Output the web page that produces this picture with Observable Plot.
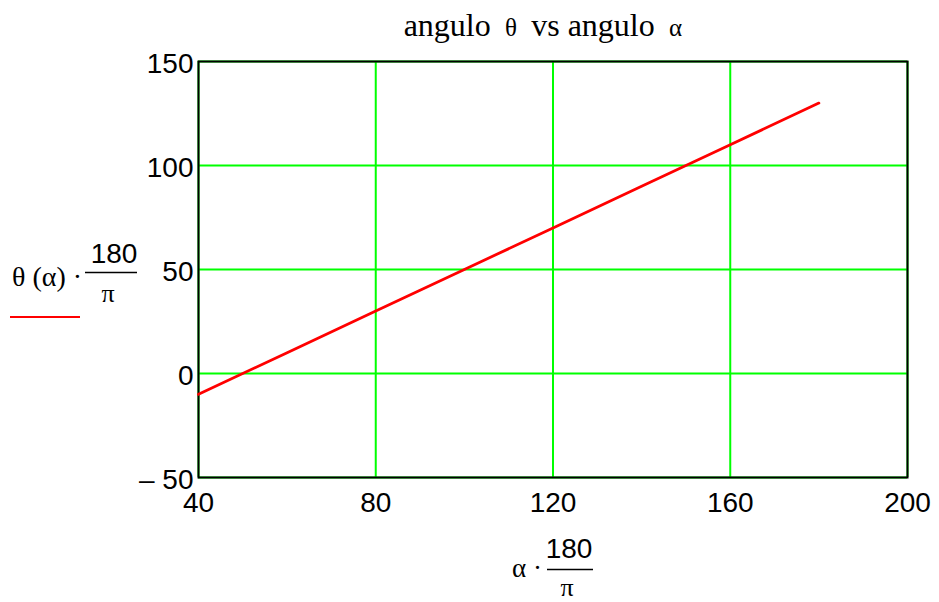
<!DOCTYPE html>
<html>
<head>
<meta charset="utf-8">
<script src="https://cdn.jsdelivr.net/npm/d3@7"></script>
<script src="https://cdn.jsdelivr.net/npm/@observablehq/plot@0.6"></script>
<style>
  html, body { margin: 0; padding: 0; background: #fff; }
  #chart { width: 939px; height: 602px; }
</style>
</head>
<body>
<div id="chart"></div>
<script>
// angle alpha (degrees) and resulting angle theta (degrees)
const alphaDeg = [40, 60, 80, 100, 120, 140, 160, 180];
const thetaDeg = [-10, 10, 30, 50, 70, 90, 110, 130];

const xTicks = [40, 80, 120, 160, 200];
const yTicks = [-50, 0, 50, 100, 150];

// title pieces: words in text size, Greek symbols a little smaller
const titleParts = [
  {t: "angulo ", greek: false},
  {t: "θ", greek: true},
  {t: " vs angulo ", greek: false},
  {t: "α", greek: true}
];

const data = alphaDeg.map((a, i) => ({alpha: a, theta: thetaDeg[i]}));

const W = 939, H = 602;
const green = "#00ff00";

const chart = Plot.plot({
  width: W,
  height: H,
  marginLeft: 198,
  marginRight: 32,
  marginTop: 61,
  marginBottom: 125,
  style: {background: "#fff", fontFamily: "'Liberation Sans', Arial, sans-serif"},
  x: {domain: [40, 200], ticks: xTicks, label: null},
  y: {domain: [-50, 150], ticks: yTicks, label: null},
  marks: [
    Plot.ruleX(xTicks, {stroke: green, strokeWidth: 2}),
    Plot.ruleY(yTicks, {stroke: green, strokeWidth: 2}),
    Plot.frame({stroke: "#000", strokeWidth: 2}),
    Plot.axisX(xTicks, {tickSize: 0, tickPadding: 15, fontSize: 28, fill: "#000"}),
    Plot.axisY(yTicks, {
      tickSize: 0, tickPadding: 5, dy: 3, fontSize: 28, fill: "#000",
      tickFormat: d => d < 0 ? "\u2013 " + Math.abs(d) : String(d)
    }),
    Plot.line(data, {x: "alpha", y: "theta", stroke: "#ff0000", strokeWidth: 2.8})
  ]
});

document.getElementById("chart").appendChild(chart);

// Title and mathematical axis labels drawn into the same SVG
const svg = d3.select(chart);
const serif = "'Liberation Serif', 'Times New Roman', serif";
const sans = "'Liberation Sans', Arial, sans-serif";

function label(g, x, y, txt, family, size, anchor) {
  return g.append("text")
    .attr("x", x).attr("y", y)
    .attr("text-anchor", anchor)
    .attr("font-family", family).attr("font-size", size)
    .attr("fill", "#000")
    .style("white-space", "pre")
    .text(txt);
}

const title = svg.append("text")
  .attr("x", 546).attr("y", 36)
  .attr("text-anchor", "middle")
  .attr("font-family", serif).attr("font-size", 32)
  .attr("fill", "#000")
  .style("white-space", "pre");
titleParts.forEach(p => {
  title.append("tspan")
    .attr("font-size", p.greek ? 25 : 32)
    .text(p.greek ? " " + p.t + " " : p.t);
});

// y label: θ(α)·180/π with legend swatch
const yl = svg.append("g");
label(yl, 12, 286, "θ (α) ·", serif, 28, "start");
label(yl, 114, 263, "180", sans, 28, "middle");
yl.append("line").attr("x1", 85).attr("x2", 137).attr("y1", 272.5).attr("y2", 272.5)
  .attr("stroke", "#000").attr("stroke-width", 1.5);
label(yl, 108, 302, "π", serif, 26, "middle");
yl.append("line").attr("x1", 10).attr("x2", 80).attr("y1", 317).attr("y2", 317)
  .attr("stroke", "#ff0000").attr("stroke-width", 2);

// x label: α·180/π
const xl = svg.append("g");
label(xl, 512, 577, "α ·", serif, 27, "start");
label(xl, 569, 558, "180", sans, 28, "middle");
xl.append("line").attr("x1", 547).attr("x2", 593).attr("y1", 569.5).attr("y2", 569.5)
  .attr("stroke", "#000").attr("stroke-width", 1.5);
label(xl, 567, 596, "π", serif, 26, "middle");
</script>
</body>
</html>
